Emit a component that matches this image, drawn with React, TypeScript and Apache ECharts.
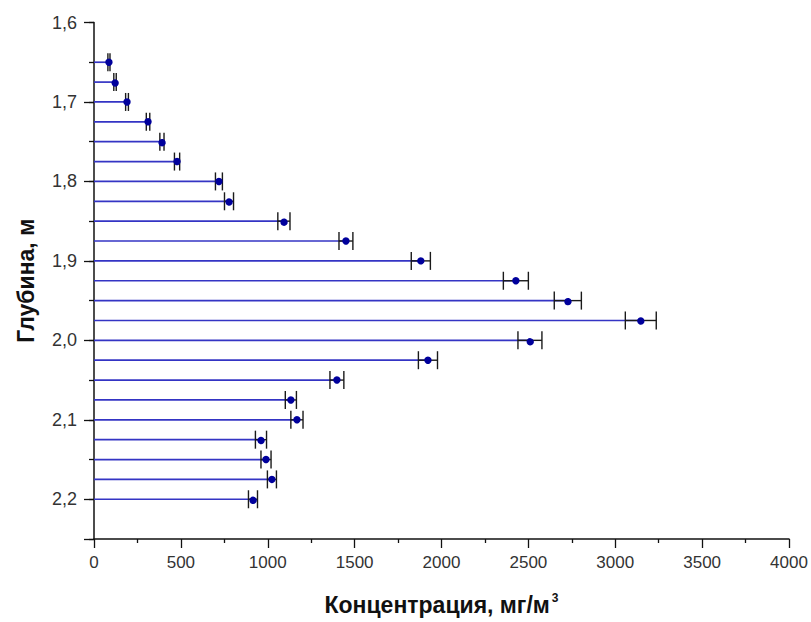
import React, { useEffect, useRef } from "react";
import * as echarts from "echarts";

// Sampling depths, m (step 0.025)
const depths = [
  1.65, 1.675, 1.7, 1.725, 1.75, 1.775, 1.8, 1.825, 1.85, 1.875, 1.9, 1.925,
  1.95, 1.975, 2.0, 2.025, 2.05, 2.075, 2.1, 2.125, 2.15, 2.175, 2.2,
];

// Measured concentration, mg/m3
const concentration = [
  86, 121, 190, 311, 391, 478, 719, 777, 1093, 1450, 1881, 2428, 2727, 3147,
  2509, 1922, 1398, 1133, 1168, 961, 990, 1024, 915,
];

// Half-width of the measurement error, mg/m3
const errors = [
  6, 7, 8, 10, 12, 15, 20, 26, 35, 40, 55, 72, 78, 89, 69, 55, 40, 32, 35, 32,
  29, 26, 26,
];

const FONT = "Arial, 'Liberation Sans', sans-serif";

const fmtDepth = (v: number) => {
  const t = v * 10;
  if (Math.abs(t - Math.round(t)) > 1e-6) return "";
  return v.toFixed(1).replace(".", ",");
};

export default function App() {
  const ref = useRef<HTMLDivElement>(null);

  useEffect(() => {
    if (!ref.current) return;
    const chart = echarts.init(ref.current, null, { renderer: "svg" });

    const data = depths.map((d, i) => [concentration[i], d, errors[i]]);

    const yCommon = {
      type: "value" as const,
      inverse: true,
      min: 1.6,
      max: 2.25,
      position: "left" as const,
      splitLine: { show: false },
    };

    chart.setOption({
      animation: false,
      backgroundColor: "#ffffff",
      grid: { left: 94, right: 22, top: 22.5, bottom: 83, containLabel: false },
      xAxis: {
        type: "value",
        min: 0,
        max: 4000,
        interval: 500,
        splitLine: { show: false },
        axisLine: { show: true, onZero: false, lineStyle: { color: "#111", width: 1.5 } },
        axisTick: { show: true, length: 9, lineStyle: { color: "#111", width: 1.3 } },
        minorTick: { show: true, splitNumber: 2, length: 4, lineStyle: { color: "#111", width: 1.3 } },
        axisLabel: {
          color: "#333",
          fontSize: 17,
          fontFamily: FONT,
          margin: 15,
          formatter: (v: number) => String(v),
        },
        name: "{t|Концентрация, мг/м}{s|3}",
        nameLocation: "middle",
        nameGap: 53,
        nameTextStyle: {
          rich: {
            t: { fontSize: 23, fontWeight: "bold", color: "#111", fontFamily: FONT, verticalAlign: "bottom" },
            s: { fontSize: 12, fontWeight: "bold", color: "#111", fontFamily: FONT, verticalAlign: "top", padding: [0, 0, 12, 2] },
          },
        },
      },
      yAxis: [
        {
          ...yCommon,
          interval: 0.1,
          axisLine: { show: true, lineStyle: { color: "#111", width: 1.5 } },
          axisTick: { show: true, length: 10, lineStyle: { color: "#111", width: 1.3 } },
          axisLabel: { color: "#333", fontSize: 18, fontFamily: FONT, margin: 17, formatter: fmtDepth },
          name: "Глубина, м",
          nameLocation: "middle",
          nameRotate: 90,
          nameGap: 57,
          nameTextStyle: { fontSize: 23, fontWeight: "bold", color: "#111", fontFamily: FONT },
        },
        {
          ...yCommon,
          interval: 0.05,
          axisLine: { show: false },
          axisTick: { show: true, length: 5, lineStyle: { color: "#111", width: 1.3 } },
          axisLabel: { show: false },
        },
      ],
      series: [
        {
          type: "custom",
          xAxisIndex: 0,
          yAxisIndex: 0,
          encode: { x: 0, y: 1 },
          data,
          renderItem: (_params: any, api: any) => {
            const v = api.value(0);
            const d = api.value(1);
            const e = api.value(2);
            const [x0, y] = api.coord([0, d]);
            const xv = api.coord([v, d])[0];
            const xl = api.coord([v - e, d])[0];
            const xr = api.coord([v + e, d])[0];
            const cap = 9;
            const black = { stroke: "#1a1a1a", lineWidth: 1.4 };
            return {
              type: "group",
              children: [
                { type: "line", shape: { x1: x0, y1: y, x2: xv, y2: y }, style: { stroke: "#3434c4", lineWidth: 1.7 } },
                { type: "line", shape: { x1: xl, y1: y, x2: xr, y2: y }, style: black },
                { type: "line", shape: { x1: xl, y1: y - cap, x2: xl, y2: y + cap }, style: black },
                { type: "line", shape: { x1: xr, y1: y - cap, x2: xr, y2: y + cap }, style: black },
                { type: "circle", shape: { cx: xv, cy: y, r: 3.7 }, style: { fill: "#00009c" } },
              ],
            };
          },
        },
      ],
    });

    return () => chart.dispose();
  }, []);

  return (
    <div
      ref={ref}
      style={{ position: "fixed", left: 0, top: 0, width: 811, height: 622, background: "#fff" }}
    />
  );
}
